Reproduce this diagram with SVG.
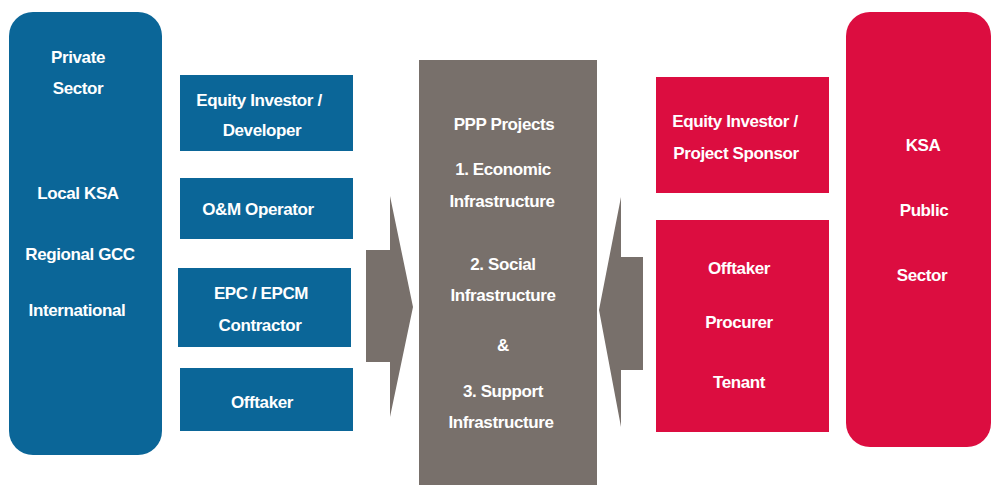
<svg xmlns="http://www.w3.org/2000/svg" width="992" height="485" viewBox="0 0 992 485">
<style>
.blue{fill:#0b6698}
.red{fill:#dc0d40}
.grey{fill:#78706b}
text{font-family:"Liberation Sans",Arial,sans-serif;font-weight:bold;font-size:17px;fill:#ffffff;text-anchor:middle;letter-spacing:-0.4px}
</style>
<rect width="992" height="485" fill="#ffffff"/>
<g id="private-sector">
<rect class="blue" x="9" y="12" width="153" height="443" rx="24"/>
<text x="78" y="63">Private</text>
<text x="78" y="94">Sector</text>
<text x="78" y="199">Local KSA</text>
<text x="80" y="260">Regional GCC</text>
<text x="77" y="316">International</text>
</g>
<g id="equity-investor-developer">
<rect class="blue" x="180" y="75" width="173" height="76"/>
<text x="259" y="106">Equity Investor /</text>
<text x="262" y="136">Developer</text>
</g>
<g id="om-operator">
<rect class="blue" x="180" y="178" width="173" height="61"/>
<text x="258" y="215">O&amp;M Operator</text>
</g>
<g id="epc-contractor">
<rect class="blue" x="178" y="268" width="173" height="79"/>
<text x="261" y="299">EPC / EPCM</text>
<text x="260" y="331">Contractor</text>
</g>
<g id="offtaker-private">
<rect class="blue" x="180" y="368" width="173" height="63"/>
<text x="262" y="408">Offtaker</text>
</g>
<g id="ppp-projects">
<rect class="grey" x="419" y="60" width="178" height="425"/>
<text x="504" y="130">PPP Projects</text>
<text x="503" y="175">1. Economic</text>
<text x="502" y="207">Infrastructure</text>
<text x="503" y="270">2. Social</text>
<text x="503" y="301">Infrastructure</text>
<text x="503" y="351">&amp;</text>
<text x="503" y="397">3. Support</text>
<text x="501" y="428">Infrastructure</text>
</g>
<g id="connectors">
<polygon class="grey" points="366,250 390,250 390,196 413,307 390,417 390,362 366,362"/>
<polygon class="grey" points="643,257 621,257 621,197 599,310 621,427 621,370 643,370"/>
</g>
<g id="equity-investor-sponsor">
<rect class="red" x="656" y="77" width="173" height="116"/>
<text x="735" y="127">Equity Investor /</text>
<text x="736" y="159">Project Sponsor</text>
</g>
<g id="offtaker-procurer-tenant">
<rect class="red" x="656" y="220" width="173" height="212"/>
<text x="739" y="274">Offtaker</text>
<text x="739" y="328">Procurer</text>
<text x="739" y="388">Tenant</text>
</g>
<g id="public-sector">
<rect class="red" x="846" y="12" width="145" height="435" rx="24"/>
<text x="923" y="151">KSA</text>
<text x="924" y="216">Public</text>
<text x="922" y="281">Sector</text>
</g>
</svg>
